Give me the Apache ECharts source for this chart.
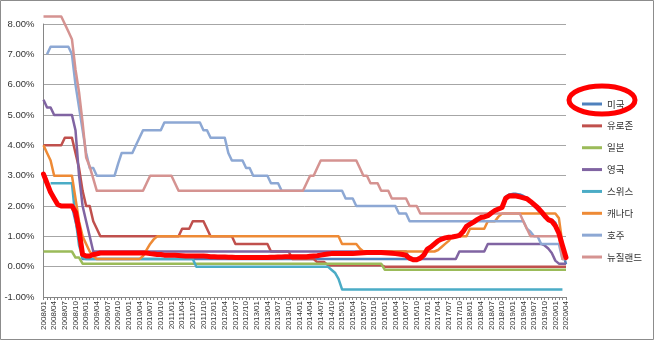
<!DOCTYPE html>
<html>
<head>
<meta charset="utf-8">
<script src="https://cdn.jsdelivr.net/npm/echarts@6/dist/echarts.min.js"></script>
<style>
  html, body { margin: 0; padding: 0; background: #fff; }
  #chart { width: 654px; height: 341px; }
</style>
</head>
<body>
<div id="chart"></div>
<script>
// Monthly policy-rate series, 2008/01 – 2020/04 (percent)
const months = [];
for (let y = 2008; y <= 2020; y++) {
  for (let m = 1; m <= 12; m++) {
    if (y === 2020 && m > 4) break;
    months.push(y + '/' + String(m).padStart(2, '0'));
  }
}

const seriesNames = ['미국', '유로존', '일본', '영국', '스위스', '캐나다', '호주', '뉴질랜드'];
const seriesColors = ['#4F81BD', '#C0504D', '#9BBB59', '#8064A2', '#4BACC6', '#EE8A35', '#8DA8D4', '#D59391'];

const usRate = [
  3.0, 2.75, 2.5, 2.25, 2.0, 2.0, 2.0, 2.0, 2.0, 1.5, 1.0, 0.25,
  0.25, 0.25, 0.25, 0.25, 0.25, 0.25, 0.25, 0.25, 0.25, 0.25, 0.25, 0.25,
  0.25, 0.25, 0.25, 0.25, 0.25, 0.25, 0.25, 0.25, 0.25, 0.25, 0.25, 0.25,
  0.25, 0.25, 0.25, 0.25, 0.25, 0.25, 0.25, 0.25, 0.25, 0.25, 0.25, 0.25,
  0.25, 0.25, 0.25, 0.25, 0.25, 0.25, 0.25, 0.25, 0.25, 0.25, 0.25, 0.25,
  0.25, 0.25, 0.25, 0.25, 0.25, 0.25, 0.25, 0.25, 0.25, 0.25, 0.25, 0.25,
  0.25, 0.25, 0.25, 0.25, 0.25, 0.25, 0.25, 0.25, 0.25, 0.25, 0.25, 0.25,
  0.25, 0.25, 0.25, 0.25, 0.25, 0.25, 0.25, 0.25, 0.25, 0.25, 0.25, 0.25,
  0.25, 0.25, 0.25, 0.25, 0.25, 0.25, 0.25, 0.25, 0.25, 0.25, 0.3, 0.45,
  0.6, 0.66, 0.78, 0.88, 0.92, 0.96, 0.98, 1.0, 1.0, 1.02, 1.12, 1.3,
  1.42, 1.48, 1.55, 1.62, 1.65, 1.7, 1.78, 1.85, 1.92, 1.97, 2.3, 2.38,
  2.4, 2.4, 2.38, 2.33, 2.26, 2.15, 2.02, 1.88, 1.75, 1.62, 1.55, 1.55,
  1.45, 1.1, 0.55, 0.08
];

const euroRate = [
  4.0, 4.0, 4.0, 4.0, 4.0, 4.0, 4.25, 4.25, 4.25, 3.75, 3.25, 2.5,
  2.0, 2.0, 1.5, 1.25, 1.0, 1.0, 1.0, 1.0, 1.0, 1.0, 1.0, 1.0,
  1.0, 1.0, 1.0, 1.0, 1.0, 1.0, 1.0, 1.0, 1.0, 1.0, 1.0, 1.0,
  1.0, 1.0, 1.0, 1.25, 1.25, 1.25, 1.5, 1.5, 1.5, 1.5, 1.25, 1.0,
  1.0, 1.0, 1.0, 1.0, 1.0, 1.0, 0.75, 0.75, 0.75, 0.75, 0.75, 0.75,
  0.75, 0.75, 0.75, 0.75, 0.5, 0.5, 0.5, 0.5, 0.5, 0.5, 0.25, 0.25,
  0.25, 0.25, 0.25, 0.25, 0.25, 0.15, 0.15, 0.15, 0.05, 0.05, 0.05, 0.05,
  0.05, 0.05, 0.05, 0.05, 0.05, 0.05, 0.05, 0.05, 0.05, 0.05, 0.05, 0.05,
  0.0, 0.0, 0.0, 0.0, 0.0, 0.0, 0.0, 0.0, 0.0, 0.0, 0.0, 0.0,
  0.0, 0.0, 0.0, 0.0, 0.0, 0.0, 0.0, 0.0, 0.0, 0.0, 0.0, 0.0,
  0.0, 0.0, 0.0, 0.0, 0.0, 0.0, 0.0, 0.0, 0.0, 0.0, 0.0, 0.0,
  0.0, 0.0, 0.0, 0.0, 0.0, 0.0, 0.0, 0.0, 0.0, 0.0, 0.0, 0.0,
  0.0, 0.0, 0.0, 0.0
];

const japanRate = [
  0.5, 0.5, 0.5, 0.5, 0.5, 0.5, 0.5, 0.5, 0.5, 0.3, 0.3, 0.1,
  0.1, 0.1, 0.1, 0.1, 0.1, 0.1, 0.1, 0.1, 0.1, 0.1, 0.1, 0.1,
  0.1, 0.1, 0.1, 0.1, 0.1, 0.1, 0.1, 0.1, 0.1, 0.1, 0.1, 0.1,
  0.1, 0.1, 0.1, 0.1, 0.1, 0.1, 0.1, 0.1, 0.1, 0.1, 0.1, 0.1,
  0.1, 0.1, 0.1, 0.1, 0.1, 0.1, 0.1, 0.1, 0.1, 0.1, 0.1, 0.1,
  0.1, 0.1, 0.1, 0.1, 0.1, 0.1, 0.1, 0.1, 0.1, 0.1, 0.1, 0.1,
  0.1, 0.1, 0.1, 0.1, 0.1, 0.1, 0.1, 0.1, 0.1, 0.1, 0.1, 0.1,
  0.1, 0.1, 0.1, 0.1, 0.1, 0.1, 0.1, 0.1, 0.1, 0.1, 0.1, 0.1,
  -0.1, -0.1, -0.1, -0.1, -0.1, -0.1, -0.1, -0.1, -0.1, -0.1, -0.1, -0.1,
  -0.1, -0.1, -0.1, -0.1, -0.1, -0.1, -0.1, -0.1, -0.1, -0.1, -0.1, -0.1,
  -0.1, -0.1, -0.1, -0.1, -0.1, -0.1, -0.1, -0.1, -0.1, -0.1, -0.1, -0.1,
  -0.1, -0.1, -0.1, -0.1, -0.1, -0.1, -0.1, -0.1, -0.1, -0.1, -0.1, -0.1,
  -0.1, -0.1, -0.1, -0.1
];

const ukRate = [
  5.5, 5.25, 5.25, 5.0, 5.0, 5.0, 5.0, 5.0, 5.0, 4.5, 3.0, 2.0,
  1.5, 1.0, 0.5, 0.5, 0.5, 0.5, 0.5, 0.5, 0.5, 0.5, 0.5, 0.5,
  0.5, 0.5, 0.5, 0.5, 0.5, 0.5, 0.5, 0.5, 0.5, 0.5, 0.5, 0.5,
  0.5, 0.5, 0.5, 0.5, 0.5, 0.5, 0.5, 0.5, 0.5, 0.5, 0.5, 0.5,
  0.5, 0.5, 0.5, 0.5, 0.5, 0.5, 0.5, 0.5, 0.5, 0.5, 0.5, 0.5,
  0.5, 0.5, 0.5, 0.5, 0.5, 0.5, 0.5, 0.5, 0.5, 0.5, 0.5, 0.5,
  0.5, 0.5, 0.5, 0.5, 0.5, 0.5, 0.5, 0.5, 0.5, 0.5, 0.5, 0.5,
  0.5, 0.5, 0.5, 0.5, 0.5, 0.5, 0.5, 0.5, 0.5, 0.5, 0.5, 0.5,
  0.5, 0.5, 0.5, 0.5, 0.5, 0.5, 0.5, 0.25, 0.25, 0.25, 0.25, 0.25,
  0.25, 0.25, 0.25, 0.25, 0.25, 0.25, 0.25, 0.25, 0.25, 0.5, 0.5, 0.5,
  0.5, 0.5, 0.5, 0.5, 0.5, 0.75, 0.75, 0.75, 0.75, 0.75, 0.75, 0.75,
  0.75, 0.75, 0.75, 0.75, 0.75, 0.75, 0.75, 0.75, 0.75, 0.7, 0.6, 0.45,
  0.2, 0.1, 0.1, 0.1
];

const swissRate = [
  null, null, 2.75, 2.75, 2.75, 2.75, 2.75, 2.75, 2.75, 1.6, 0.7, 0.3,
  0.25, 0.25, 0.25, 0.25, 0.25, 0.25, 0.25, 0.25, 0.25, 0.25, 0.25, 0.25,
  0.25, 0.25, 0.25, 0.25, 0.25, 0.25, 0.25, 0.25, 0.25, 0.25, 0.25, 0.25,
  0.25, 0.25, 0.25, 0.25, 0.25, 0.25, 0.25, 0.0, 0.0, 0.0, 0.0, 0.0,
  0.0, 0.0, 0.0, 0.0, 0.0, 0.0, 0.0, 0.0, 0.0, 0.0, 0.0, 0.0,
  0.0, 0.0, 0.0, 0.0, 0.0, 0.0, 0.0, 0.0, 0.0, 0.0, 0.0, 0.0,
  0.0, 0.0, 0.0, 0.0, 0.0, 0.0, 0.0, 0.0, 0.0, -0.1, -0.2, -0.4,
  -0.75, -0.75, -0.75, -0.75, -0.75, -0.75, -0.75, -0.75, -0.75, -0.75, -0.75, -0.75,
  -0.75, -0.75, -0.75, -0.75, -0.75, -0.75, -0.75, -0.75, -0.75, -0.75, -0.75, -0.75,
  -0.75, -0.75, -0.75, -0.75, -0.75, -0.75, -0.75, -0.75, -0.75, -0.75, -0.75, -0.75,
  -0.75, -0.75, -0.75, -0.75, -0.75, -0.75, -0.75, -0.75, -0.75, -0.75, -0.75, -0.75,
  -0.75, -0.75, -0.75, -0.75, -0.75, -0.75, -0.75, -0.75, -0.75, -0.75, -0.75, -0.75,
  -0.75, -0.75, -0.75, null
];

const canadaRate = [
  4.0, 3.75, 3.5, 3.0, 3.0, 3.0, 3.0, 3.0, 3.0, 2.25, 1.5, 1.0,
  0.75, 0.5, 0.35, 0.25, 0.25, 0.25, 0.25, 0.25, 0.25, 0.25, 0.25, 0.25,
  0.25, 0.25, 0.25, 0.25, 0.35, 0.55, 0.75, 0.9, 1.0, 1.0, 1.0, 1.0,
  1.0, 1.0, 1.0, 1.0, 1.0, 1.0, 1.0, 1.0, 1.0, 1.0, 1.0, 1.0,
  1.0, 1.0, 1.0, 1.0, 1.0, 1.0, 1.0, 1.0, 1.0, 1.0, 1.0, 1.0,
  1.0, 1.0, 1.0, 1.0, 1.0, 1.0, 1.0, 1.0, 1.0, 1.0, 1.0, 1.0,
  1.0, 1.0, 1.0, 1.0, 1.0, 1.0, 1.0, 1.0, 1.0, 1.0, 1.0, 1.0,
  0.75, 0.75, 0.75, 0.75, 0.75, 0.6, 0.5, 0.5, 0.5, 0.5, 0.5, 0.5,
  0.5, 0.5, 0.5, 0.5, 0.5, 0.5, 0.5, 0.5, 0.5, 0.5, 0.5, 0.5,
  0.5, 0.5, 0.5, 0.55, 0.65, 0.75, 0.85, 1.0, 1.0, 1.0, 1.0, 1.0,
  1.25, 1.25, 1.25, 1.25, 1.25, 1.5, 1.5, 1.5, 1.65, 1.75, 1.75, 1.75,
  1.75, 1.75, 1.75, 1.75, 1.75, 1.75, 1.75, 1.75, 1.75, 1.75, 1.75, 1.75,
  1.75, 1.6, 0.75, 0.25
];

const australiaRate = [
  null, 7.0, 7.25, 7.25, 7.25, 7.25, 7.25, 7.25, 7.0, 6.0, 5.25, 4.5,
  3.75, 3.25, 3.25, 3.0, 3.0, 3.0, 3.0, 3.0, 3.0, 3.4, 3.75, 3.75,
  3.75, 3.75, 4.0, 4.25, 4.5, 4.5, 4.5, 4.5, 4.5, 4.5, 4.75, 4.75,
  4.75, 4.75, 4.75, 4.75, 4.75, 4.75, 4.75, 4.75, 4.75, 4.5, 4.5, 4.25,
  4.25, 4.25, 4.25, 4.25, 3.75, 3.5, 3.5, 3.5, 3.5, 3.25, 3.25, 3.0,
  3.0, 3.0, 3.0, 3.0, 2.75, 2.75, 2.75, 2.5, 2.5, 2.5, 2.5, 2.5,
  2.5, 2.5, 2.5, 2.5, 2.5, 2.5, 2.5, 2.5, 2.5, 2.5, 2.5, 2.5,
  2.5, 2.25, 2.25, 2.25, 2.0, 2.0, 2.0, 2.0, 2.0, 2.0, 2.0, 2.0,
  2.0, 2.0, 2.0, 2.0, 1.75, 1.75, 1.75, 1.5, 1.5, 1.5, 1.5, 1.5,
  1.5, 1.5, 1.5, 1.5, 1.5, 1.5, 1.5, 1.5, 1.5, 1.5, 1.5, 1.5,
  1.5, 1.5, 1.5, 1.5, 1.5, 1.5, 1.5, 1.5, 1.5, 1.5, 1.5, 1.5,
  1.5, 1.5, 1.5, 1.5, 1.25, 1.15, 1.0, 1.0, 0.75, 0.75, 0.75, 0.75,
  0.75, 0.75, 0.25, 0.25
];

const newZealandRate = [
  8.25, 8.25, 8.25, 8.25, 8.25, 8.25, 8.0, 7.75, 7.5, 6.5, 5.75, 4.75,
  3.6, 3.3, 2.9, 2.5, 2.5, 2.5, 2.5, 2.5, 2.5, 2.5, 2.5, 2.5,
  2.5, 2.5, 2.5, 2.5, 2.5, 2.75, 3.0, 3.0, 3.0, 3.0, 3.0, 3.0,
  3.0, 2.75, 2.5, 2.5, 2.5, 2.5, 2.5, 2.5, 2.5, 2.5, 2.5, 2.5,
  2.5, 2.5, 2.5, 2.5, 2.5, 2.5, 2.5, 2.5, 2.5, 2.5, 2.5, 2.5,
  2.5, 2.5, 2.5, 2.5, 2.5, 2.5, 2.5, 2.5, 2.5, 2.5, 2.5, 2.5,
  2.5, 2.5, 2.75, 3.0, 3.0, 3.25, 3.5, 3.5, 3.5, 3.5, 3.5, 3.5,
  3.5, 3.5, 3.5, 3.5, 3.5, 3.25, 3.0, 3.0, 2.75, 2.75, 2.75, 2.5,
  2.5, 2.5, 2.25, 2.25, 2.25, 2.25, 2.25, 2.0, 2.0, 2.0, 1.75, 1.75,
  1.75, 1.75, 1.75, 1.75, 1.75, 1.75, 1.75, 1.75, 1.75, 1.75, 1.75, 1.75,
  1.75, 1.75, 1.75, 1.75, 1.75, 1.75, 1.75, 1.75, 1.75, 1.75, 1.75, 1.75,
  1.75, 1.75, 1.75, 1.5, 1.25, 1.0, 1.0, 1.0, 1.0, 1.0, 1.0, 1.0,
  1.0, 1.0, 0.25, 0.25
];

// Hand-drawn red emphasis stroke over the US rate
const usHighlight = [
  3.05, 2.75, 2.45, 2.25, 2.05, 2.0, 2.0, 2.0, 2.0, 1.8, 1.2, 0.4,
  0.35, 0.35, 0.4, 0.42, 0.45, 0.45, 0.45, 0.45, 0.45, 0.45, 0.45, 0.45,
  0.45, 0.45, 0.45, 0.45, 0.45, 0.45, 0.43, 0.42, 0.4, 0.4, 0.38, 0.38,
  0.38, 0.38, 0.37, 0.36, 0.35, 0.35, 0.35, 0.35, 0.35, 0.35, 0.34, 0.33,
  0.33, 0.32, 0.32, 0.32, 0.31, 0.31, 0.3, 0.3, 0.3, 0.3, 0.3, 0.3,
  0.3, 0.3, 0.3, 0.3, 0.31, 0.31, 0.32, 0.32, 0.33, 0.33, 0.33, 0.33,
  0.33, 0.33, 0.33, 0.34, 0.35, 0.36, 0.38, 0.4, 0.42, 0.43, 0.43, 0.43,
  0.43, 0.43, 0.43, 0.43, 0.44, 0.45, 0.46, 0.47, 0.47, 0.47, 0.47, 0.47,
  0.46, 0.45, 0.44, 0.43, 0.42, 0.4, 0.37, 0.28, 0.23, 0.23, 0.28, 0.38,
  0.58, 0.65, 0.75, 0.85, 0.91, 0.95, 0.97, 0.98, 1.0, 1.03, 1.15, 1.33,
  1.4, 1.47, 1.55, 1.62, 1.64, 1.68, 1.77, 1.85, 1.9, 1.95, 2.25, 2.33,
  2.34, 2.33, 2.3, 2.27, 2.24, 2.15, 2.05, 1.95, 1.82, 1.68, 1.55, 1.5,
  1.35, 1.1, 0.7, 0.3
];

const yTicks = { min: -1, max: 8, step: 1 };

const rateSeries = [usRate, euroRate, japanRate, ukRate, swissRate, canadaRate, australiaRate, newZealandRate];

const chart = echarts.init(document.getElementById('chart'), null, { renderer: 'canvas' });

const series = rateSeries.map((data, i) => ({
  name: seriesNames[i],
  type: 'line',
  data: data,
  symbol: 'none',
  clip: false,
  color: seriesColors[i],
  lineStyle: { width: 2.5, color: seriesColors[i], join: 'round' },
  animation: false
}));

series.push({
  name: 'highlight',
  type: 'line',
  data: usHighlight,
  symbol: 'none',
  clip: false,
  lineStyle: { width: 5, color: '#FF0000', join: 'round', cap: 'round' },
  z: 5,
  animation: false
});

chart.setOption({
  animation: false,
  backgroundColor: '#ffffff',
  grid: { left: 43.5, right: 88, top: 24, bottom: 44 },
  legend: {
    data: seriesNames,
    orient: 'vertical',
    left: 577,
    top: 93,
    icon: 'rect',
    itemWidth: 20,
    itemHeight: 3,
    itemGap: 9.86,
    selectedMode: false,
    textStyle: {
      fontFamily: '"Noto Sans CJK KR", sans-serif',
      fontSize: 9.5,
      lineHeight: 12,
      color: '#333333'
    }
  },
  xAxis: {
    type: 'category',
    data: months,
    boundaryGap: false,
    axisLine: { onZero: false, lineStyle: { color: '#868686', width: 1 } },
    axisTick: { show: true, interval: 0, length: 3, lineStyle: { color: '#868686' } },
    axisLabel: {
      interval: 2,
      rotate: 90,
      margin: 4,
      fontFamily: '"Liberation Sans", Arial, sans-serif',
      fontSize: 8,
      color: '#333333'
    },
    splitLine: { show: false }
  },
  yAxis: {
    type: 'value',
    min: yTicks.min,
    max: yTicks.max,
    interval: yTicks.step,
    axisLine: { show: true, lineStyle: { color: '#868686', width: 1 } },
    axisTick: { show: false },
    axisLabel: {
      margin: 9,
      fontFamily: '"Liberation Sans", Arial, sans-serif',
      fontSize: 9.5,
      color: '#333333',
      formatter: v => v.toFixed(2) + '%'
    },
    splitLine: { show: true, lineStyle: { color: '#A6A6A6', width: 1 } }
  },
  graphic: [
    {
      type: 'rect',
      shape: { x: 0.5, y: 0.5, width: 653, height: 339 },
      style: { fill: 'none', stroke: '#8C8C8C', lineWidth: 1 },
      silent: true,
      z: 0
    },
    {
      type: 'ellipse',
      shape: { cx: 602, cy: 100, rx: 33, ry: 14 },
      style: { fill: 'none', stroke: '#FF0000', lineWidth: 5 },
      silent: true,
      z: 100
    }
  ],
  series: series
});
</script>
</body>
</html>
